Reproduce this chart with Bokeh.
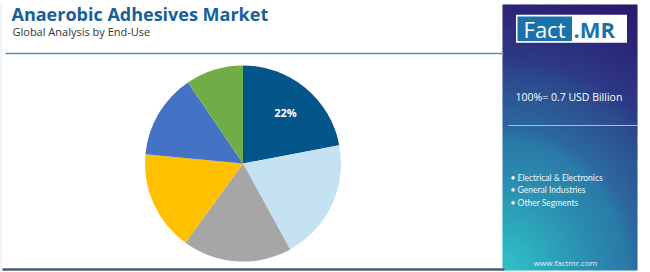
import numpy as np
from bokeh.plotting import figure
from bokeh.models import ColumnDataSource, Range1d
from bokeh.core.properties import value
from bokeh.embed import file_html
from bokeh.resources import INLINE

# ---- data ----
segments = ["Automotive", "Electrical & Electronics", "General Industries",
            "Construction", "Aerospace", "Other Segments"]
shares = [22, 20, 18, 16.5, 14, 9.5]
colors = ["#04558a", "#c5e2f2", "#a6a6a6", "#ffc000", "#4472c4", "#70ad47"]
shown_labels = ["22%", "", "", "", "", ""]
legend_items = ["Electrical & Electronics", "General Industries", "Other Segments"]
title_text = "Anaerobic Adhesives Market"
subtitle_text = "Global Analysis by End-Use"
total_text = "100%= 0.7 USD Billion"
site_text = "www.factmr.com"

W, H = 650, 272
def Y(yt):
    return H - yt

p = figure(width=W, height=H, x_range=Range1d(0, W), y_range=Range1d(0, H),
           output_backend="svg", toolbar_location=None, min_border=0)
p.axis.visible = False
p.grid.visible = False
p.outline_line_color = None
p.background_fill_color = "white"
p.border_fill_color = "white"

# ---- right panel gradient (vector cells) ----
px0, px1, pyt, pyb = 502, 637, 4, 270
pw, ph = px1 - px0, pyb - pyt
cell = 3
nx, ny = int(np.ceil(pw / cell)), int(np.ceil(ph / cell))
ii, jj = np.meshgrid(np.arange(nx), np.arange(ny))
left = px0 + ii * cell
right = np.minimum(left + cell + 0.6, px1)
bot_t = pyb - jj * cell
top_t = np.maximum(bot_t - cell - 0.6, pyt)
u = ((ii + 0.5) * cell) / pw
v = ((jj + 0.5) * cell) / ph
d = np.sqrt((u * 0.53) ** 2 + v ** 2)
stops = [0.0, 0.35, 0.49, 0.53, 0.72, 0.8, 1.0, 1.15]
cr = np.interp(d, stops, [48, 43, 42, 45, 44, 46, 45, 42]).astype(int)
cg = np.interp(d, stops, [196, 140, 122, 106, 76, 58, 36, 24]).astype(int)
cb = np.interp(d, stops, [200, 176, 168, 160, 142, 134, 118, 108]).astype(int)
cols = ["#%02x%02x%02x" % (r, g, b) for r, g, b in zip(cr.ravel(), cg.ravel(), cb.ravel())]
p.quad(left=left.ravel(), right=right.ravel(), top=Y(top_t).ravel(), bottom=Y(bot_t).ravel(),
       fill_color=cols, line_color=None)

# ---- pie ----
cx, cy, R = 242.5, Y(163), 98
vals = np.array(shares, dtype=float)
frac = vals / vals.sum()
cum = np.concatenate([[0], np.cumsum(frac)])
start = np.pi / 2 - 2 * np.pi * cum[:-1]
end = np.pi / 2 - 2 * np.pi * cum[1:]
mid = (start + end) / 2
src = ColumnDataSource(dict(x=[cx] * len(vals), y=[cy] * len(vals), start=start, end=end,
                            color=colors, seg=segments,
                            lx=cx + 0.68 * R * np.cos(mid), ly=cy + 0.68 * R * np.sin(mid),
                            lab=shown_labels))
p.wedge(x="x", y="y", radius=R, radius_units="screen", start_angle="start", end_angle="end",
        direction="clock", fill_color="color", line_color=None, source=src)
p.text(x="lx", y="ly", text="lab", source=src, text_color="white",
       text_font=value("Open Sans"), text_font_style="bold", text_font_size="11px",
       text_align="center", text_baseline="middle")

# ---- titles ----
p.text(x=[11], y=[Y(13)], text=[title_text], text_color="#17609a",
       text_font=value("Open Sans"), text_font_style="bold", text_font_size="18px",
       text_baseline="middle")
p.text(x=[12], y=[Y(31)], text=[subtitle_text], text_color="#333333",
       text_font=value("Open Sans"), text_font_size="11px", text_baseline="middle")
p.segment(x0=[5], y0=[Y(53)], x1=[503], y1=[Y(53)], line_color="#5a8fbd", line_width=1.5)
p.segment(x0=[2], y0=[Y(269)], x1=[504], y1=[Y(269)], line_color="#4d5b6b", line_width=2.5)
p.segment(x0=[0.5], y0=[Y(2)], x1=[0.5], y1=[Y(271)], line_color="#dddddd", line_width=1)

# logo
p.quad(left=[515.5], right=[626.5], top=[Y(14.3)], bottom=[Y(42.3)], fill_color="white", line_color=None)
p.quad(left=[517], right=[571.5], top=[Y(16)], bottom=[Y(40.5)], fill_color="#1b72aa", line_color=None)
p.text(x=[544], y=[Y(28.5)], text=["Fact"], text_color="white", text_font=value("Open Sans"),
       text_font_size="22px", text_align="center", text_baseline="middle")
p.text(x=[573], y=[Y(28.5)], text=[".MR"], text_color="#1b72aa", text_font=value("Open Sans"),
       text_font_style="bold", text_font_size="22px", text_align="left", text_baseline="middle")

p.text(x=[515], y=[Y(96)], text=[total_text], text_color="white", text_font=value("Open Sans"),
       text_font_size="10.5px", text_baseline="middle")
p.segment(x0=[508], y0=[Y(125)], x1=[637], y1=[Y(125)], line_color="#9cc0e6", line_width=1.2)

ly = [177, 189, 202]
p.text(x=[510] * 3, y=[Y(t) for t in ly], text=["\u2022 " + s for s in legend_items],
       text_color="#eef4fa", text_font=value("Lato"), text_font_size="8.5px", text_baseline="middle")
p.text(x=[565], y=[Y(262)], text=[site_text], text_color="#e8f0f6", text_font=value("Open Sans"),
       text_font_size="8px", text_align="center", text_baseline="middle")

open("out.html", "w").write(file_html(p, INLINE))
